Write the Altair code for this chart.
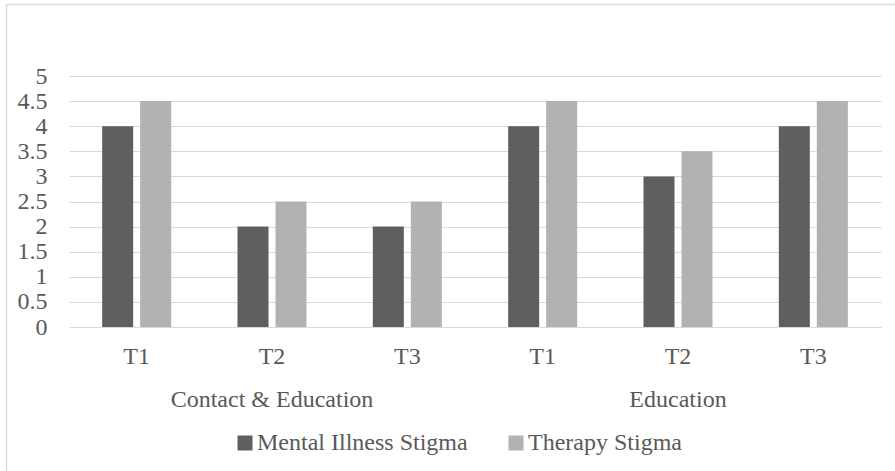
import altair as alt
import pandas as pd

groups = ["Contact & Education", "Contact & Education", "Contact & Education",
          "Education", "Education", "Education"]
times = ["T1", "T2", "T3", "T1", "T2", "T3"]
mental_illness = [4, 2, 2, 4, 3, 4]
therapy = [4.5, 2.5, 2.5, 4.5, 3.5, 4.5]
series_names = ["Mental Illness Stigma", "Therapy Stigma"]
series_colors = ["#5f5f5f", "#b2b2b2"]
group_names = ["Contact & Education", "Education"]

keys = [g + "|" + t for g, t in zip(groups, times)]
rows = []
for k, a, b in zip(keys, mental_illness, therapy):
    rows.append({"key": k, "series": series_names[0], "value": a})
    rows.append({"key": k, "series": series_names[1], "value": b})
df = pd.DataFrame(rows)

grp_df = pd.DataFrame({"key": [g + "|T2" for g in group_names], "label": group_names})

FONT = "Liberation Serif"
TXT = "#595959"
GRID = "#d9d9d9"

xscale = alt.Scale(domain=keys, paddingInner=0.49, paddingOuter=0.245)

bars = alt.Chart(df).mark_bar().encode(
    x=alt.X("key:N", scale=xscale, sort=keys,
            axis=alt.Axis(title=None, labelExpr="split(datum.value, '|')[1]",
                          labelAngle=0, labelFont=FONT, labelFontSize=24,
                          labelColor=TXT, ticks=False, domainColor=GRID,
                          labelPadding=17, grid=False)),
    xOffset=alt.XOffset("series:N", sort=series_names,
                        scale=alt.Scale(paddingInner=0.184, paddingOuter=0)),
    y=alt.Y("value:Q", scale=alt.Scale(domain=[0, 5], nice=False),
            axis=alt.Axis(title=None, values=[0, 0.5, 1, 1.5, 2, 2.5, 3, 3.5, 4, 4.5, 5],
                          labelFont=FONT, labelFontSize=24, labelColor=TXT,
                          ticks=False, domain=False, gridColor=GRID,
                          labelPadding=22, labelExpr="format(datum.value, '')")),
    color=alt.Color("series:N", sort=series_names,
                    scale=alt.Scale(domain=series_names, range=series_colors),
                    legend=alt.Legend(title=None, orient="none", direction="horizontal",
                                      legendX=164, legendY=355, padding=0,
                                      symbolType="square", symbolSize=225,
                                      symbolStrokeWidth=0, labelFont=FONT,
                                      labelFontSize=24, labelColor=TXT,
                                      labelOffset=0, columnPadding=36,
                                      labelLimit=0)),
)

glabels = alt.Chart(grp_df).mark_text(font=FONT, fontSize=24, color=TXT,
                                      baseline="alphabetic").encode(
    x=alt.X("key:N", scale=xscale, sort=keys),
    y=alt.value(331),
    text="label:N",
)

one = pd.DataFrame({"a": [0]})
left_border = alt.Chart(one).mark_rule(color=GRID, strokeWidth=1.5).encode(
    x=alt.value(-62.5), y=alt.value(-71.5), y2=alt.value(420))
top_border = alt.Chart(one).mark_rule(color=GRID, strokeWidth=1.5).encode(
    x=alt.value(-62.5), x2=alt.value(900), y=alt.value(-71.5))

chart = alt.layer(left_border, top_border, bars, glabels).properties(
    width=812, height=251,
    padding={"left": 69, "top": 76, "right": 14, "bottom": 144},
    autosize=alt.AutoSizeParams(type="none"),
    background="white",
).configure_view(stroke=None)

chart.save("out.html", embed_options={"renderer": "svg", "actions": False})
